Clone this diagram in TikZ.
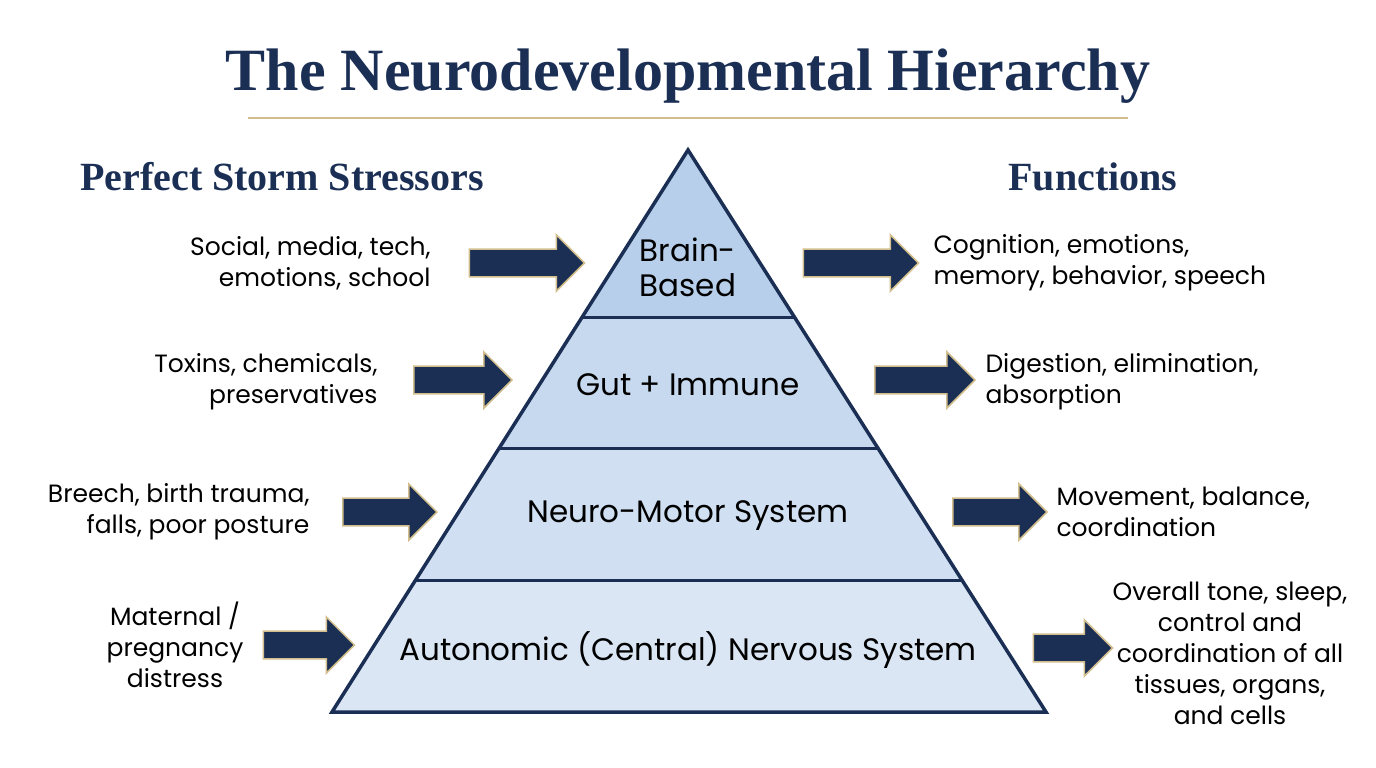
\documentclass[tikz,border=0pt]{standalone}
\usepackage{fontspec}
\setmainfont{Liberation Serif}
\newfontfamily\bodyf{Poppins}
\usetikzlibrary{shapes.arrows}
\definecolor{navy}{HTML}{1B2F55}
\definecolor{gold}{HTML}{D2BE8C}
\definecolor{bandA}{HTML}{B7CFEA}
\definecolor{bandB}{HTML}{C6D9EF}
\definecolor{bandC}{HTML}{D0E0F2}
\definecolor{bandD}{HTML}{DAE6F4}
\begin{document}
\begin{tikzpicture}[x=1pt,y=-1pt,
  arr/.style={single arrow, fill=navy, draw=gold, line width=1.5pt, minimum height=#1, minimum width=56pt, single arrow head extend=14pt, inner sep=13pt, anchor=center},
  txt/.style={font=\bodyf\fontsize{25}{31}\selectfont, text=black},
  lbl/.style={font=\bodyf\fontsize{31}{35}\selectfont, text=black, align=center},
  head/.style={font=\bfseries\fontsize{40}{44}\selectfont, text=navy}]
\useasboundingbox (0,0) rectangle (1376,768);
\fill[white] (0,0) rectangle (1376,768);
\node[font=\bfseries\fontsize{60}{66}\selectfont, text=navy] (title) at (688,76) {The Neurodevelopmental Hierarchy};
\draw[gold, line width=1.5pt] (248,118) -- (1128,118);
\node[head] (hl) at (282,177) {Perfect Storm Stressors};
\node[head] (hr) at (1093,177) {Functions};
% pyramid bands
\fill[bandA] (688,150) -- (794,317) -- (582,317) -- cycle;
\fill[bandB] (582,317) -- (794,317) -- (877,448) -- (499,448) -- cycle;
\fill[bandC] (499,448) -- (877,448) -- (961,580) -- (415,580) -- cycle;
\fill[bandD] (415,580) -- (961,580) -- (1046,712) -- (332,712) -- cycle;
\draw[navy, line width=3.5pt, line join=miter] (688,150) -- (1046,712) -- (332,712) -- cycle;
\draw[navy, line width=3pt] (582,317) -- (794,317) (499,448) -- (877,448) (415,580) -- (961,580);
\node[lbl] (l1) at (688,267) {Brain-\\Based};
\node[lbl] (l2) at (688,385) {Gut + Immune};
\node[lbl] (l3) at (688,516) {Neuro-Motor System};
\node[lbl] (l4) at (688,650) {Autonomic (Central) Nervous System};
% left arrows
\node[arr=115pt] (a1) at (520,263) {};
\node[arr=98pt] (a2) at (456,380) {};
\node[arr=94pt] (a3) at (383,512) {};
\node[arr=91pt] (a4) at (302,645) {};
% right arrows
\node[arr=115pt] (b1) at (854,263) {};
\node[arr=100pt] (b2) at (918,380) {};
\node[arr=94pt] (b3) at (993,512) {};
\node[arr=79pt] (b4) at (1066,648) {};
% left texts
\node[txt, align=right, anchor=east] (s1) at (434,263) {Social, media, tech,\\emotions, school};
\node[txt, align=right, anchor=east] (s2) at (381,382) {Toxins, chemicals,\\preservatives};
\node[txt, align=right, anchor=east] (s3) at (313,512) {Breech, birth trauma,\\falls, poor posture};
\node[txt, align=center] (s4) at (175,645) {Maternal /\\pregnancy\\distress};
% right texts
\node[txt, align=left, anchor=west] (f1) at (930,263) {Cognition, emotions,\\memory, behavior, speech};
\node[txt, align=left, anchor=west] (f2) at (982,382) {Digestion, elimination,\\absorption};
\node[txt, align=left, anchor=west] (f3) at (1053,512) {Movement, balance,\\coordination};
\node[txt, align=center] (f4) at (1230,653) {Overall tone, sleep,\\control and\\coordination of all\\tissues, organs,\\and cells};
\end{tikzpicture}
\end{document}
